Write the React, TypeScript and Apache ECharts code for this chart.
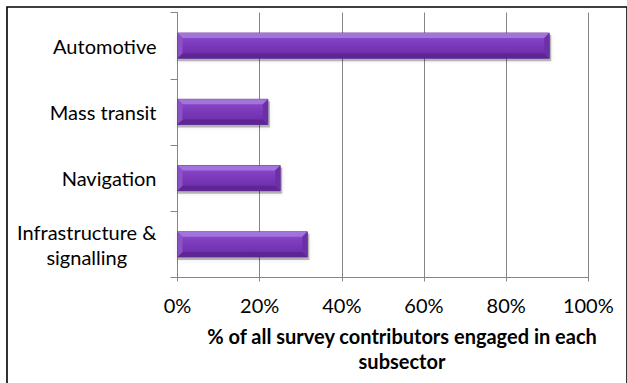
import React, { useEffect, useRef } from "react";
import * as echarts from "echarts";

const categories = ["Automotive", "Mass transit", "Navigation", "Infrastructure &\nsignalling"];
const values = [90.5, 22, 25, 31.6];
const xTicks = { min: 0, max: 100, interval: 20 };
const axisTitle = "% of all survey contributors engaged in each\nsubsector";

const FONT = "Lato, 'Open Sans', sans-serif";

export default function App() {
  const ref = useRef<HTMLDivElement>(null);
  useEffect(() => {
    document.body.style.margin = "0";
    const chart = echarts.init(ref.current!, null, { renderer: "svg" });
    const renderItem = (params: any, api: any) => {
      const val = api.value(0);
      const idx = api.value(1);
      const s = api.coord([0, idx]);
      const e = api.coord([val, idx]);
      const band = api.size([0, 1])[1];
      const h = band * 0.38;
      const x0 = s[0];
      const x1 = e[0];
      const y0 = s[1] - h / 2;
      const y1 = s[1] + h / 2;
      const b = 5;
      return {
        type: "group",
        children: [
          {
            type: "rect",
            shape: { x: x0, y: y0 + 2, width: x1 - x0 + 2, height: h + 1 },
            style: { fill: "rgba(0,0,0,0.25)", shadowBlur: 4, shadowColor: "rgba(0,0,0,0.35)" },
          },
          {
            type: "rect",
            shape: { x: x0, y: y0, width: x1 - x0, height: h },
            style: {
              fill: new echarts.graphic.LinearGradient(0, 0, 0, 1, [
                { offset: 0, color: "#8c4fcc" },
                { offset: 0.5, color: "#7a38ba" },
                { offset: 1, color: "#6a2ca5" },
              ]),
              stroke: "#5a2390",
              lineWidth: 0.8,
            },
          },
          {
            type: "polygon",
            shape: { points: [[x0, y0], [x1, y0], [x1 - b, y0 + b], [x0 + b, y0 + b]] },
            style: { fill: "#a373dc" },
          },
          {
            type: "polygon",
            shape: { points: [[x0, y1], [x1, y1], [x1 - b, y1 - b], [x0 + b, y1 - b]] },
            style: { fill: "#5e2694" },
          },
          {
            type: "polygon",
            shape: { points: [[x0, y0], [x0 + b, y0 + b], [x0 + b, y1 - b], [x0, y1]] },
            style: { fill: "#8a52c6" },
          },
          {
            type: "polygon",
            shape: { points: [[x1, y0], [x1 - b, y0 + b], [x1 - b, y1 - b], [x1, y1]] },
            style: { fill: "#6c30a6" },
          },
        ],
      };
    };
    chart.setOption({
      animation: false,
      backgroundColor: "#ffffff",
      grid: { left: 177.5, right: 38.7, top: 12.5, bottom: 105.5, containLabel: false },
      xAxis: {
        type: "value",
        min: xTicks.min,
        max: xTicks.max,
        interval: xTicks.interval,
        axisLine: { show: true, lineStyle: { color: "#868686", width: 1 } },
        axisTick: { show: true, length: 4, lineStyle: { color: "#868686" } },
        splitLine: { show: true, lineStyle: { color: "#868686", width: 1 } },
        axisLabel: {
          formatter: "{value}%",
          color: "#000",
          fontSize: 20,
          fontFamily: FONT,
          margin: 17,
        },
      },
      yAxis: {
        type: "category",
        data: categories,
        inverse: true,
        axisLine: { show: true, lineStyle: { color: "#868686", width: 1 } },
        axisTick: { show: true, length: 7, alignWithLabel: false, lineStyle: { color: "#868686" } },
        splitLine: { show: false },
        axisLabel: {
          color: "#000",
          fontSize: 20,
          fontFamily: FONT,
          margin: 21,
          formatter: (v: string) => `{c|${v}}`,
          rich: { c: { align: "center", fontSize: 20, fontFamily: FONT, color: "#000", lineHeight: 25 } },
        },
      },
      series: [
        {
          type: "custom",
          renderItem,
          encode: { x: 0, y: 1 },
          data: values.map((v, i) => [v, i]),
        },
      ],
      graphic: [
        {
          type: "rect",
          shape: { x: 7, y: 7, width: 620, height: 390 },
          style: { fill: "none", stroke: "#000", lineWidth: 1.6 },
          silent: true,
        },
        {
          type: "text",
          x: 402,
          y: 348.5,
          style: {
            text: axisTitle,
            align: "center",
            verticalAlign: "middle",
            fontSize: 20,
            fontWeight: "bold",
            fontFamily: FONT,
            fill: "#000",
            lineHeight: 25,
          },
        },
      ],
    });
    return () => chart.dispose();
  }, []);
  return <div ref={ref} style={{ width: 627, height: 383 }} />;
}
